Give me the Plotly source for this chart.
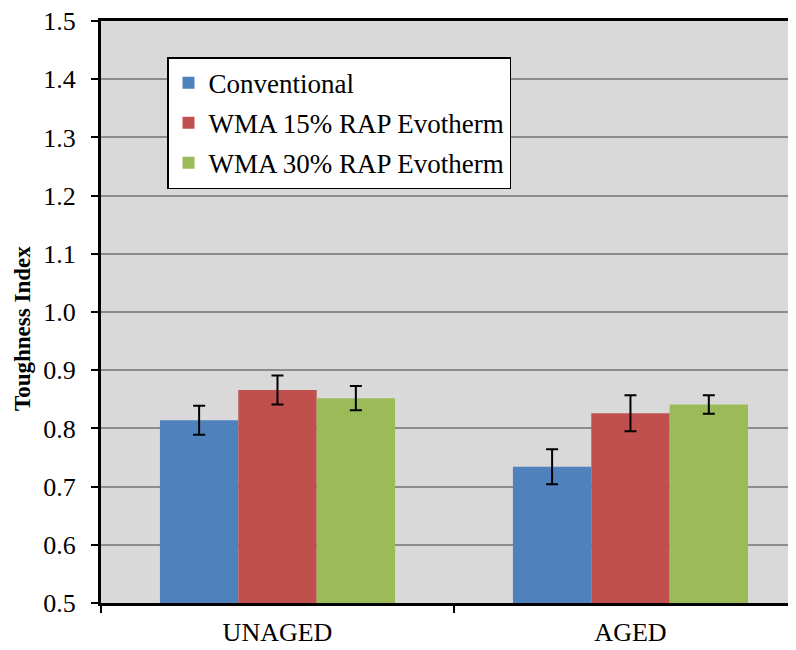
import plotly.graph_objects as go

categories = ["UNAGED", "AGED"]
series = ["Conventional", "WMA 15% RAP Evotherm", "WMA 30% RAP Evotherm"]
values = [[0.814, 0.734], [0.866, 0.826], [0.852, 0.841]]
errors = [[0.025, 0.030], [0.025, 0.031], [0.021, 0.016]]
colors = ["#4F81BD", "#C0504D", "#9BBB59"]

serif = "Liberation Serif"

fig = go.Figure()
for name, v, e, c in zip(series, values, errors, colors):
    fig.add_trace(go.Bar(
        x=categories, y=v, name=name, marker_color=c,
        marker_line_width=0, legendgroup=name,
        error_y=dict(type="data", array=e, color="black", thickness=2, width=6),
    ))

# page body has an 8px margin, so the figure is sized to 788x642
fig.update_layout(
    width=788, height=642,
    margin=dict(l=93, r=0, t=13, b=47),
    paper_bgcolor="white", plot_bgcolor="#D9D9D9",
    barmode="group", bargap=0.334, bargroupgap=0,
    font=dict(family=serif, size=24, color="black"),
    legend=dict(x=0.095, y=0.938, xanchor="left", yanchor="top",
                bgcolor="white", bordercolor="black", borderwidth=1.5,
                font=dict(family=serif, size=27), tracegroupgap=2),
    showlegend=True,
)
# y title placed by hand (it sits a little below the plot centre in the original)
fig.add_annotation(text="<b>Toughness Index</b>", textangle=-90,
                   xref="paper", yref="paper", x=-0.1137, y=0.4725,
                   xanchor="center", yanchor="middle", showarrow=False,
                   font=dict(family=serif, size=23))
fig.update_xaxes(range=[-0.5, 1.469], tickson="boundaries", ticks="outside",
                 ticklen=7, tickwidth=2, tickcolor="black",
                 showline=True, linecolor="black", linewidth=3, mirror=True,
                 showgrid=False, tickfont=dict(family=serif, size=26),
                 ticklabelstandoff=4)
fig.update_yaxes(range=[0.5, 1.5], dtick=0.1, tickformat=".1f",
                 ticks="outside", ticklen=7, tickwidth=2, tickcolor="black",
                 showline=True, linecolor="black", linewidth=3,
                 showgrid=True, gridcolor="#8C8C8C", gridwidth=2,
                 zeroline=False, tickfont=dict(family=serif, size=26),
                 ticklabelstandoff=10, ticklabeloverflow="allow")

fig.write_html("out.html")
